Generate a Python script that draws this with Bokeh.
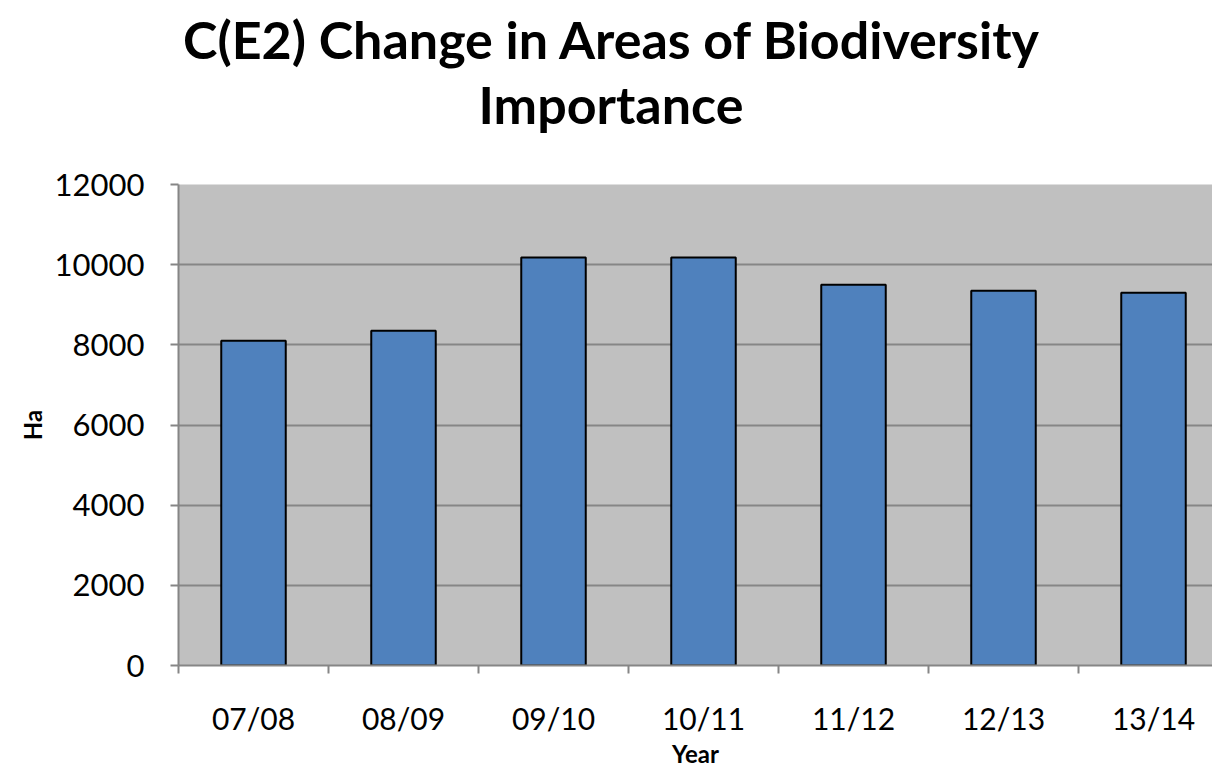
from bokeh.plotting import figure
from bokeh.models import Range1d, FixedTicker, Div
from bokeh.layouts import column
from bokeh.embed import file_html
from bokeh.resources import INLINE

years = ["07/08", "08/09", "09/10", "10/11", "11/12", "12/13", "13/14"]
hectares = [8100, 8350, 10180, 10180, 9500, 9350, 9300]
y_ticks = [0, 2000, 4000, 6000, 8000, 10000, 12000]
title_lines = ["C(E2) Change in Areas of Biodiversity", "Importance"]
x_title = "Year"
y_title = "Ha"

FONT = "Lato"
x_pos = [i + 0.5 for i in range(len(years))]

W = 1212
TITLE_H = 150
FIG_H = 610
LEFT, TOP, BOTTOM = 178, 24, 105

title = Div(text="<br>".join(title_lines), width=W, height=TITLE_H,
            styles={"font-family": FONT, "font-size": "52px", "font-weight": "bold",
                    "color": "black", "text-align": "center", "line-height": "65px",
                    "padding-top": "2px", "width": f"{W}px", "box-sizing": "border-box"})

p = figure(width=W, height=FIG_H, output_backend="svg", toolbar_location=None,
           x_range=Range1d(0, (W - LEFT) / 150.0), y_range=Range1d(0, 12000))
p.title.visible = False

p.min_border_left = LEFT
p.min_border_right = 0
p.min_border_top = TOP
p.min_border_bottom = BOTTOM
p.outline_line_color = None
p.background_fill_color = "#C0C0C0"
p.border_fill_color = "white"

p.vbar(x=x_pos, top=hectares, width=0.43, bottom=0,
       fill_color="#4F81BD", line_color="black", line_width=2)

# x axis
p.xaxis.ticker = FixedTicker(ticks=x_pos, minor_ticks=list(range(len(years) + 1)))
p.xaxis.major_label_overrides = {x: lab for x, lab in zip(x_pos, years)}
p.xaxis.major_tick_out = 0
p.xaxis.major_tick_in = 0
p.xaxis.minor_tick_out = 8
p.xaxis.minor_tick_in = 0
p.xaxis.minor_tick_line_color = "#868686"
p.xaxis.minor_tick_line_width = 2
p.xaxis.axis_line_color = "#868686"
p.xaxis.axis_line_width = 2
p.xaxis.major_label_text_font = FONT
p.xaxis.major_label_text_font_size = "30px"
p.xaxis.major_label_text_color = "black"
p.xaxis.major_label_standoff = 26
p.xaxis.axis_label = x_title
p.xaxis.axis_label_text_font = FONT
p.xaxis.axis_label_text_font_size = "24px"
p.xaxis.axis_label_text_font_style = "bold"
p.xaxis.axis_label_text_color = "black"
p.xaxis.axis_label_standoff = 0

# y axis
p.yaxis.ticker = FixedTicker(ticks=y_ticks)
p.yaxis.minor_tick_line_color = None
p.yaxis.major_tick_out = 8
p.yaxis.major_tick_in = 0
p.yaxis.major_tick_line_color = "#868686"
p.yaxis.major_tick_line_width = 2
p.yaxis.axis_line_color = "#868686"
p.yaxis.axis_line_width = 2
p.yaxis.major_label_text_font = FONT
p.yaxis.major_label_text_font_size = "31px"
p.yaxis.major_label_text_color = "black"
p.yaxis.major_label_standoff = 26
p.yaxis.axis_label = y_title
p.yaxis.axis_label_text_font = FONT
p.yaxis.axis_label_text_font_size = "24px"
p.yaxis.axis_label_text_font_style = "bold"
p.yaxis.axis_label_text_color = "black"

p.xgrid.grid_line_color = None
p.ygrid.ticker = FixedTicker(ticks=y_ticks)
p.ygrid.grid_line_color = "#868686"
p.ygrid.grid_line_width = 2

layout = column(title, p, spacing=0)
open("out.html", "w").write(file_html(layout, INLINE))
